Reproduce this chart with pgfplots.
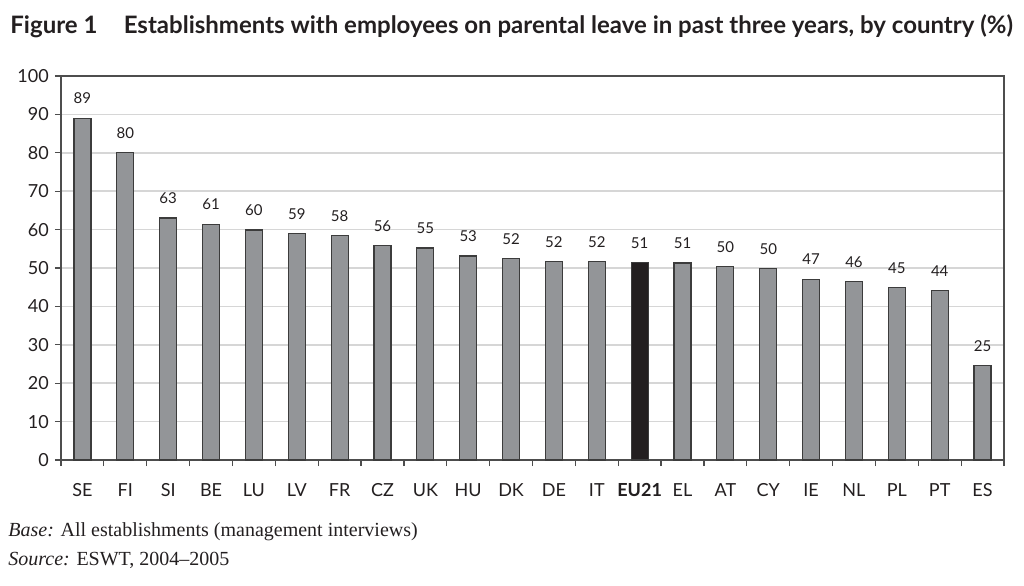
\documentclass[border=0pt]{standalone}
\usepackage{fontspec}
\setmainfont{Lato}
\newfontfamily\notefont[Ligatures=TeX]{Liberation Serif}
\usepackage{pgfplots}
\pgfplotsset{compat=1.18}
\usepackage{pgfplotstable}

\definecolor{barfill}{HTML}{939598}
\definecolor{barline}{HTML}{3C3C3C}
\definecolor{eubar}{HTML}{231F20}
\definecolor{gridc}{HTML}{D6D6D6}
\definecolor{framec}{HTML}{4D4D4D}
\definecolor{txt}{HTML}{231F20}

% Share of establishments (%), countries in descending order
\pgfplotstableread{
x y
0  89.0
1  80.0
2  63.0
3  61.4
4  59.9
5  59.0
6  58.4
7  55.9
8  55.2
9  53.1
10 52.4
11 51.7
12 51.7
14 51.3
15 50.3
16 49.8
17 47.1
18 46.4
19 44.9
20 44.2
21 24.6
}\countries

% EU21 average
\pgfplotstableread{
x y
13 51.4
}\euavg

\begin{document}
\begin{tikzpicture}
\useasboundingbox (-30.5pt,-62.5pt) rectangle (481.5pt,230pt);
\begin{axis}[
  at={(0pt,0pt)}, anchor=south west,
  scale only axis, width=471.5pt, height=192pt,
  xmin=-0.5, xmax=21.5, ymin=0, ymax=100,
  ytick={0,10,...,100},
  xtick={0,...,21},
  xticklabels={SE,FI,SI,BE,LU,LV,FR,CZ,UK,HU,DK,DE,IT,\textbf{EU21},EL,AT,CY,IE,NL,PL,PT,ES},
  minor xtick={-0.5,0.5,...,21.5},
  tick pos=left, tick align=outside,
  major tick length=3pt, minor tick length=3pt,
  major x tick style={draw=none},
  minor x tick style={framec, line width=0.6pt},
  major y tick style={framec, line width=0.6pt},
  axis line style={framec, line width=0.7pt},
  ymajorgrids, major grid style={gridc, line width=0.8pt},
  /pgf/number format/assume math mode=true,
  yticklabel style={font=\fontsize{9}{10}\selectfont, text=txt, xshift=0.4pt},
  xticklabel style={font=\fontsize{9}{10}\selectfont, text=txt, yshift=-5pt, text height=6.5pt, text depth=0pt},
  nodes near coords={\pgfmathprintnumber[fixed,precision=0,assume math mode=true]{\pgfplotspointmeta}},
  every node near coord/.append style={font=\fontsize{7.5}{8}\selectfont, text=txt, anchor=south, inner sep=0pt, yshift=6.8pt},
]
\addplot[ybar, bar width=8.5pt, bar shift=0pt, fill=barfill, draw=barline, line width=0.6pt] table {\countries};
\addplot[ybar, bar width=8.5pt, bar shift=0pt, fill=eubar, draw=barline, line width=0.6pt] table {\euavg};
\end{axis}
\node[anchor=base west, inner sep=0pt, text=txt, font=\bfseries\fontsize{12}{14}\selectfont] at (-25.5pt,213.5pt) {Figure 1\hspace{1.1em}Establishments with employees on parental leave in past three years, by country (\%)};
\node[anchor=base west, inner sep=0pt, text=txt, font=\notefont\fontsize{10}{12}\selectfont] at (-26.5pt,-38.4pt) {\textit{Base:} All establishments (management interviews)};
\node[anchor=base west, inner sep=0pt, text=txt, font=\notefont\fontsize{10}{12}\selectfont] at (-26.5pt,-52.5pt) {\textit{Source:} ESWT, 2004--2005};
\end{tikzpicture}
\end{document}
